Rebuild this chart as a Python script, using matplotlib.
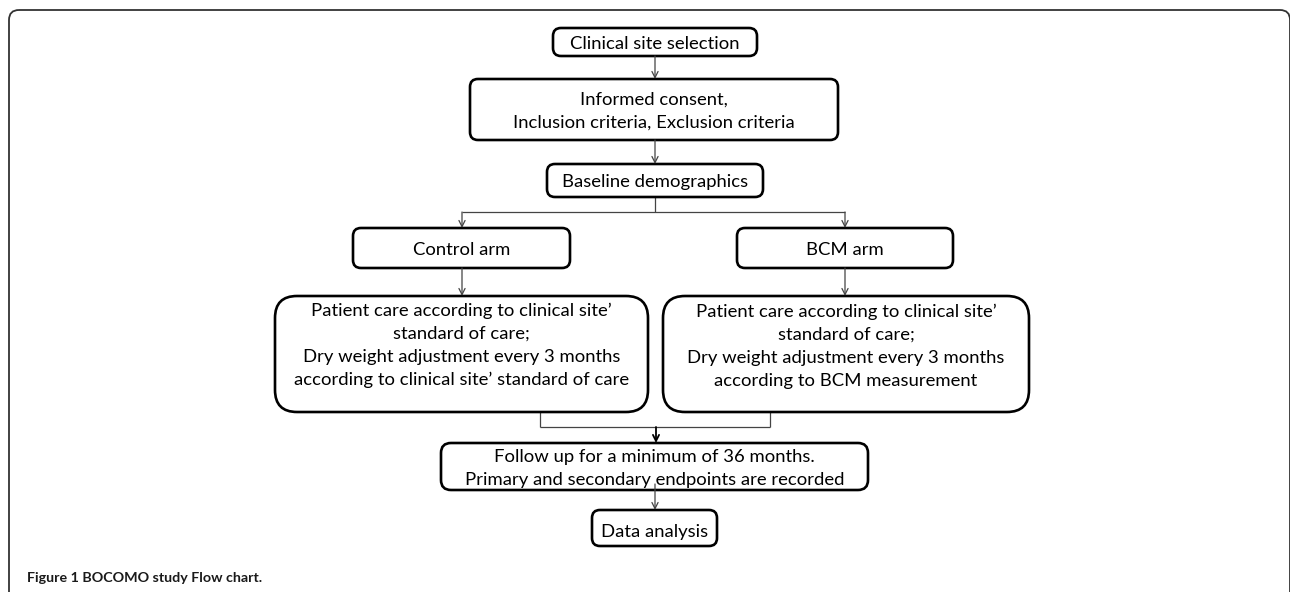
import matplotlib
matplotlib.use("Agg")
import matplotlib.pyplot as plt
from matplotlib.patches import FancyBboxPatch

# ---- content ----
step_labels = [
    "Clinical site selection",
    "Informed consent,\nInclusion criteria, Exclusion criteria",
    "Baseline demographics",
    "Control arm",
    "BCM arm",
    "Patient care according to clinical site\u2019\nstandard of care;\nDry weight adjustment every 3 months\naccording to clinical site\u2019 standard of care",
    "Patient care according to clinical site\u2019\nstandard of care;\nDry weight adjustment every 3 months\naccording to BCM measurement",
    "Follow up for a minimum of 36 months.\nPrimary and secondary endpoints are recorded",
    "Data analysis",
]
caption_text = "Figure 1 BOCOMO study Flow chart."

# ---- layout (pixel space): x0, x1, y0, y1, corner radius, first baseline ----
boxes = [
    (553, 757, 28, 56, 8, 49),
    (470, 838, 79, 140, 8, 105),
    (547, 763, 164, 197, 8, 187),
    (353, 570, 228, 268, 8, 255),
    (737, 953, 228, 268, 8, 255),
    (275, 648, 296, 412, 22, 316),
    (663, 1029, 296, 412, 22, 317),
    (441, 868, 443, 490, 10, 462),
    (592, 717, 510, 546, 8, 537),
]
PITCH = 23

W, H = 1290, 592
fig = plt.figure(figsize=(W / 100, H / 100), dpi=100)
ax = fig.add_axes([0, 0, 1, 1])
ax.set_xlim(0, W)
ax.set_ylim(H, 0)
ax.axis("off")

FONT = "Lato"
ARROW_C = "#444444"

# outer frame
frame = FancyBboxPatch((9, 10), 1281, 700, boxstyle="round,pad=0,rounding_size=10",
                       fc="none", ec="#333333", lw=1.3, clip_on=True)
ax.add_patch(frame)

# fit font size by width of reference line
fig.canvas.draw()
r = fig.canvas.get_renderer()
probe = ax.text(0, 0, "Patient care according to clinical site\u2019", fontsize=10, family=FONT)
w10 = probe.get_window_extent(r).width
probe.remove()
fs = 10 * 300 / w10

for (x0, x1, y0, y1, rad, yb), lab in zip(boxes, step_labels):
    p = FancyBboxPatch((x0, y0), x1 - x0, y1 - y0,
                       boxstyle=f"round,pad=0,rounding_size={rad}",
                       fc="white", ec="black", lw=1.9, zorder=2)
    ax.add_patch(p)
    for i, ln in enumerate(lab.split("\n")):
        ax.text((x0 + x1) / 2, yb + i * PITCH, ln, ha="center", va="baseline",
                fontsize=fs, family=FONT, color="black", zorder=3)


def arrow(x, ya, yb, color=ARROW_C, lw=0.9):
    ax.annotate("", xy=(x, yb), xytext=(x, ya),
                arrowprops=dict(arrowstyle="->", color=color, lw=lw,
                                shrinkA=0, shrinkB=0, mutation_scale=11),
                zorder=4)


def line(xs, ys):
    ax.plot(xs, ys, color=ARROW_C, lw=0.9, zorder=1, solid_capstyle="butt")


arrow(655, 56, 79)
arrow(655, 140, 164)
line([655, 655], [197, 212])
line([462, 845], [212, 212])
arrow(462, 212, 228)
arrow(845, 212, 228)
arrow(462, 268, 296)
arrow(845, 268, 296)
line([540, 540], [412, 427])
line([770, 770], [412, 427])
line([540, 770], [427, 427])
arrow(656, 427, 443, color="black", lw=1.3)
arrow(655, 484, 510)

# caption
probe = ax.text(0, 0, caption_text, fontsize=10, family=FONT, weight="bold")
wc = probe.get_window_extent(r).width
probe.remove()
cfs = 10 * 236 / wc
ax.text(27, 582, caption_text, fontsize=cfs, family=FONT,
        weight="bold", color="#1a1a1a", ha="left", va="baseline")

fig.savefig("out.png", dpi=100)
